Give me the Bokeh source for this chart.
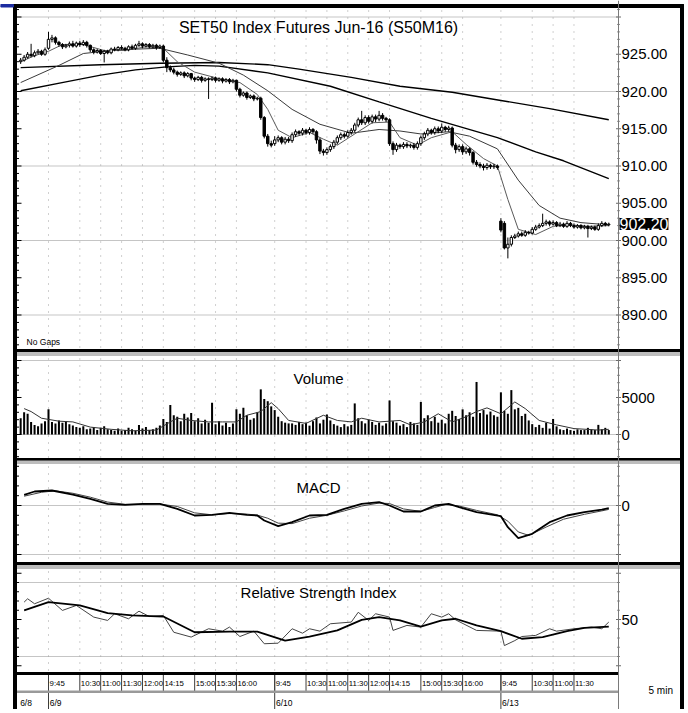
from bokeh.plotting import figure
from bokeh.models import Range1d, Label, Span
from bokeh.embed import file_html
from bokeh.resources import INLINE
from bokeh.core.properties import value

FONT = "Liberation Sans"

# ---------------- data ----------------
first_bar = -8   # bar index of the first 5-min bar (6/9 09:45 = 0)

opens = [
    924.0, 924.2, 924.6, 925.0, 924.8, 925.2, 925.4, 925.0,
    925.8, 927.0, 927.2, 926.6,
    926.3, 926.0, 926.2, 926.4, 926.1, 926.5, 926.3, 926.6,
    926.2, 925.6, 925.3, 925.5, 925.1, 925.4,
    925.2, 925.7, 925.6, 925.9, 925.8, 925.6, 926.0, 925.8, 926.2, 926.4, 926.1, 926.3, 926.0, 926.2, 925.9,
    926.1,
    924.2, 923.2, 922.9, 922.6, 922.3, 922.5, 922.1,
    922.4, 921.8, 921.6, 921.9, 921.5, 921.7, 921.6, 921.8, 921.5, 921.7, 921.4, 921.6, 921.3,
    921.5, 920.3, 919.5, 919.8, 919.2, 919.4, 919.0,
    919.1, 916.5, 914.0, 913.0,
    913.0, 913.5, 913.8, 913.2, 913.6,
    913.4, 914.2, 914.6, 914.4, 914.8, 914.5, 914.9,
    914.6, 913.5,
    912.0, 911.8, 912.2, 912.6,
    913.2, 913.8, 914.2, 914.0, 914.5,
    914.8, 915.5, 916.2, 915.8, 916.5, 916.0, 916.6, 916.3, 916.8, 916.4,
    916.2, 913.0,
    912.2, 912.8, 912.6, 912.9, 912.7, 912.8, 912.5,
    913.0, 913.8, 914.3, 914.8, 914.5, 915.0, 914.7, 915.2, 914.9,
    915.1, 912.8, 912.2, 912.6, 911.9, 912.3,
    911.8, 910.5, 910.2, 910.0, 909.8, 910.1, 909.9, 910.0,
    902.6, 902.3, 899.0, 899.5,
    900.4, 900.6, 900.9, 900.7, 901.1,
    901.0, 901.5, 901.8, 902.0, 902.3, 902.5,
    902.2, 902.4, 902.0, 902.2, 901.9, 902.3,
    902.0, 901.8, 902.0, 901.7, 901.9, 901.6, 901.8,
    901.5, 902.0, 902.3, 902.1,
]
highs = [
    924.5, 924.9, 925.3, 926.4, 925.5, 925.7, 925.6, 925.9,
    928.0, 927.6, 927.4, 926.8,
    926.5, 926.4, 926.7, 926.8, 926.7, 926.8, 926.9, 926.8,
    926.3, 925.8, 925.7, 925.7, 925.6, 925.6,
    925.9, 926.0, 926.1, 926.2, 926.0, 926.2, 926.3, 926.4, 926.8, 926.6, 926.5, 926.5, 926.4, 926.4, 926.3,
    926.3,
    924.6, 923.5, 923.2, 922.8, 922.7, 922.7, 922.6,
    922.5, 922.0, 922.1, 922.1, 921.9, 921.9, 922.0, 922.0, 921.9, 921.9, 921.8, 921.8, 921.7,
    921.6, 920.5, 920.0, 920.0, 919.6, 919.6, 919.3,
    919.3, 916.7, 914.3, 913.4,
    914.0, 914.1, 914.0, 913.9, 913.9,
    914.5, 914.9, 914.8, 915.1, 915.0, 915.2, 915.1,
    914.8, 913.8,
    912.3, 912.5, 912.9, 913.5,
    914.1, 914.5, 914.5, 914.8, 915.1,
    915.8, 916.5, 917.4, 916.8, 916.8, 916.9, 916.9, 917.4, 917.1, 916.6,
    916.4, 913.3,
    913.1, 913.0, 913.2, 913.2, 913.0, 913.1, 913.3,
    914.1, 914.6, 915.1, 915.0, 915.3, 915.3, 915.7, 915.4, 915.4,
    915.3, 913.1, 912.9, 912.9, 912.6, 912.5,
    912.0, 910.8, 910.5, 910.3, 910.4, 910.3, 910.3, 910.2,
    903.0, 902.6, 900.4, 900.7,
    900.9, 901.2, 901.2, 901.4, 901.3,
    901.8, 902.1, 902.3, 903.6, 902.8, 902.7,
    902.7, 902.6, 902.5, 902.4, 902.6, 902.5,
    902.3, 902.2, 902.2, 902.1, 902.1, 902.0, 902.0,
    902.3, 902.6, 902.5, 902.4,
]
lows = [
    923.7, 924.0, 924.4, 924.6, 924.6, 925.0, 924.8, 924.8,
    925.6, 926.6, 926.3, 926.0,
    925.7, 925.8, 925.9, 925.9, 925.9, 926.0, 926.1, 925.9,
    925.3, 925.0, 925.1, 924.9, 923.9, 925.0,
    925.0, 925.4, 925.4, 925.6, 925.4, 925.4, 925.6, 925.6, 926.0, 925.8, 925.9, 925.8, 925.8, 925.6, 925.7,
    923.9,
    922.6, 922.6, 922.3, 922.0, 922.1, 921.8, 921.9,
    921.5, 921.3, 921.4, 921.2, 921.3, 919.0, 921.4, 921.2, 921.3, 921.1, 921.2, 921.0, 921.1,
    920.0, 919.2, 919.3, 918.9, 919.0, 918.7, 918.8,
    916.2, 913.7, 912.6, 912.5,
    912.7, 913.2, 912.9, 912.9, 913.1,
    913.1, 913.9, 914.1, 914.1, 914.2, 914.2, 914.3,
    913.0, 911.6,
    911.4, 911.5, 911.9, 912.3,
    912.9, 913.5, 913.7, 913.8, 914.2,
    914.5, 915.2, 915.5, 915.5, 915.7, 915.7, 915.9, 916.0, 916.1, 915.9,
    912.7, 911.5,
    911.9, 912.3, 912.3, 912.4, 912.4, 912.2, 912.2,
    912.7, 913.5, 914.0, 914.2, 914.2, 914.4, 914.4, 914.6, 914.6,
    912.5, 911.7, 911.9, 911.5, 911.6, 911.4,
    910.2, 909.9, 909.7, 909.4, 909.5, 909.6, 909.6, 909.5,
    901.1, 898.8, 897.6, 899.2,
    900.2, 900.4, 900.5, 900.5, 900.8,
    900.8, 901.3, 901.6, 901.8, 902.0, 901.9,
    902.0, 901.8, 901.8, 901.7, 901.7, 901.8,
    901.6, 901.6, 901.5, 901.5, 900.4, 901.4, 901.3,
    901.3, 901.8, 901.9, 901.9,
]
closes = [
    924.2, 924.6, 925.0, 924.8, 925.2, 925.4, 925.0, 925.6,
    927.0, 927.2, 926.6, 926.3,
    926.0, 926.2, 926.4, 926.1, 926.5, 926.3, 926.6, 926.2,
    925.6, 925.3, 925.5, 925.1, 925.4, 925.2,
    925.7, 925.6, 925.9, 925.8, 925.6, 926.0, 925.8, 926.2, 926.4, 926.1, 926.3, 926.0, 926.2, 925.9, 926.1,
    924.2,
    923.2, 922.9, 922.6, 922.3, 922.5, 922.1, 922.4,
    921.8, 921.6, 921.9, 921.5, 921.7, 921.6, 921.8, 921.5, 921.7, 921.4, 921.6, 921.3, 921.5,
    920.3, 919.5, 919.8, 919.2, 919.4, 919.0, 919.1,
    916.5, 914.0, 913.0, 912.8,
    913.5, 913.8, 913.2, 913.6, 913.4,
    914.2, 914.6, 914.4, 914.8, 914.5, 914.9, 914.6,
    913.5, 912.0,
    911.8, 912.2, 912.6, 913.2,
    913.8, 914.2, 914.0, 914.5, 914.8,
    915.5, 916.2, 915.8, 916.5, 916.0, 916.6, 916.3, 916.8, 916.4, 916.2,
    913.0, 912.2,
    912.8, 912.6, 912.9, 912.7, 912.8, 912.5, 913.0,
    913.8, 914.3, 914.8, 914.5, 915.0, 914.7, 915.2, 914.9, 915.1,
    912.8, 912.2, 912.6, 911.9, 912.3, 911.8,
    910.5, 910.2, 910.0, 909.8, 910.1, 909.9, 910.0, 909.8,
    901.4, 899.0, 899.5, 900.4,
    900.6, 900.9, 900.7, 901.1, 901.0,
    901.5, 901.8, 902.0, 902.3, 902.5, 902.2,
    902.4, 902.0, 902.2, 901.9, 902.3, 902.0,
    901.8, 902.0, 901.7, 901.9, 901.6, 901.8, 901.5,
    902.0, 902.3, 902.1, 902.2,
]
volumes = [
    2200, 3000, 2800, 1700, 1300, 1100, 1500, 1800,
    3400, 1700, 1500, 1900, 1600, 1800, 1400, 1200, 1000, 900, 1100, 700, 800, 1000, 600, 900, 1100, 700,
    600, 500, 800, 500, 600, 900, 700, 500, 1300, 800, 1000, 600, 700, 900, 1200,
    2100, 1700, 4000, 2600, 2400, 1800, 2800,
    2300, 2900, 1800, 2200, 1500, 2000, 1600,
    4300,
    1400, 1800, 1200, 1600, 1000, 1500,
    3400, 2800, 3600, 2600, 2000,
    2200, 3000, 6100, 4800, 4500, 3800,
    3300, 2400, 1800, 1600, 1500, 1500, 1300, 1700, 1400, 1600, 1200,
    1800, 2300, 1500, 2000, 2700, 1900, 1400, 1200, 1000, 1400, 1100, 1300,
    4200, 2200, 1800, 1500, 2000, 1700, 1300, 1600, 1200, 1500,
    4600, 1800, 1600, 1200, 1400, 1000, 1700, 1500, 1300,
    4400, 2200, 2600, 1800, 2400, 1600, 2000, 1500,
    2800, 3200, 2500, 2100, 3400, 2600, 3000, 2400, 7100, 2900, 3300, 2700, 3100, 2600, 2400,
    5700, 3200, 2800, 6000, 3400, 3600, 2500, 2800, 1900, 1400, 1000,
    1300, 900, 1600, 800, 2100, 1100,
    700, 600, 800, 600, 500, 700, 600, 600, 900, 700, 600, 1300, 700, 900, 600,
]

# moving averages (bar index, value)
ma_long_x = [-8, 15, 32, 49, 63, 72, 87, 101, 116, 130, 144, 161]
ma_long_y = [923.2, 923.6, 923.8, 923.9, 923.6, 923.0, 921.9, 920.7, 919.9, 918.8, 917.7, 916.2]
ma_mid_x = [-8, 5, 15, 25, 34, 42, 49, 63, 81, 95, 110, 129, 140, 148, 161]
ma_mid_y = [920.1, 921.3, 922.2, 922.9, 923.3, 923.5, 923.4, 922.5, 920.7, 918.6, 916.4, 913.8, 911.9, 910.7, 908.3]
ma_b_x = [-8, 3, 10, 20, 32, 40, 49, 56, 63, 70, 78, 87, 95, 101, 107, 115, 121, 129, 135, 141, 147, 153, 161]
ma_b_y = [921.2, 923.5, 925.1, 925.6, 925.8, 924.9, 923.8, 922.2, 920.1, 917.6, 915.6, 914.4, 914.9, 914.7,
          914.3, 914.6, 914.0, 912.3, 908.1, 904.7, 903.0, 902.4, 902.1]
ma_a_x = [-8, -4, 0, 4, 10, 16, 22, 28, 33, 37, 42, 50, 55, 60, 63, 66, 70, 75, 79, 83, 88, 93, 98, 101,
          106, 110, 116, 120, 125, 129, 132, 135, 140, 145, 150, 155, 161]
ma_a_y = [924.0, 924.8, 925.4, 926.3, 926.3, 925.5, 925.5, 926.0, 925.8, 924.0, 922.6, 921.6, 921.2, 919.6,
          917.6, 914.8, 913.8, 914.5, 913.6, 912.8, 914.3, 915.8, 915.9, 913.8, 912.8, 913.8, 914.6, 912.9,
          911.0, 910.0, 905.5, 901.5, 900.8, 901.9, 902.1, 901.9, 902.0]

vol_ma_x = [-7, -5, -2, 3, 7, 12, 18, 24, 31, 35, 37, 41, 46, 50, 54, 57, 61, 64, 66, 69, 74, 79, 83, 87, 90,
            95, 101, 104, 108, 112, 116, 120, 123, 126, 130, 134, 137, 141, 146, 151, 158, 161]
vol_ma_y = [3500, 3100, 2200, 1800, 1700, 1000, 700, 500, 600, 1700, 2200, 1900, 1700, 1700, 1700, 2600, 3100,
            4300, 3500, 1900, 1500, 2600, 1900, 1700, 2200, 1700, 1900, 1300, 1700, 2800, 1700, 2400, 3100,
            3600, 2800, 4400, 3500, 1900, 1300, 800, 600, 700]

macd_x = [-7, -4, 1, 7, 12, 17, 22, 27, 32, 37, 42, 47, 52, 57, 60, 62, 66, 70, 75, 80, 85, 90, 95, 98, 102,
          107, 111, 115, 118, 123, 130, 132, 135, 139, 144, 149, 154, 159, 161]
macd_y = [1.09, 1.43, 1.53, 1.12, 0.68, 0.17, 0.07, 0.17, 0.17, -0.34, -1.02, -0.95, -0.75, -0.95, -1.02,
          -1.53, -2.11, -1.70, -1.02, -0.95, -0.34, 0.17, 0.34, 0.0, -0.61, -0.61, 0.0, 0.17, -0.17, -0.68,
          -1.09, -2.21, -3.33, -2.89, -1.70, -1.02, -0.68, -0.41, -0.27]
signal_x = [-7, -2, 2, 7, 12, 17, 22, 27, 32, 37, 42, 47, 52, 57, 60, 63, 66, 70, 75, 80, 85, 90, 95, 98, 102,
            107, 111, 114, 118, 123, 129, 132, 135, 138, 143, 148, 154, 159, 161]
signal_y = [0.95, 1.35, 1.5, 1.25, 0.85, 0.35, 0.12, 0.12, 0.15, -0.1, -0.75, -0.95, -0.82, -0.88, -0.98,
            -1.3, -1.8, -1.85, -1.3, -1.0, -0.55, -0.05, 0.25, 0.2, -0.35, -0.6, -0.2, 0.1, -0.05, -0.5,
            -0.95, -1.6, -2.7, -3.05, -2.2, -1.4, -0.9, -0.55, -0.4]

rsi_x = [-7, -6, -4, 0, 4, 8, 13, 17, 19, 23, 26, 29, 33, 36, 41, 46, 50, 52, 55, 59, 62, 66, 70, 73, 75, 78,
         81, 87, 89, 92, 94, 98, 99, 103, 107, 110, 113, 115, 117, 123, 130, 131, 134, 136, 140, 144, 146,
         151, 156, 159, 161]
rsi_y = [59.4, 61.2, 58.5, 61.5, 54.9, 57.6, 51.3, 49.5, 53.1, 50.4, 54.5, 51.6, 52.2, 43.1, 40.5, 45.0,
         43.7, 45.9, 40.8, 43.7, 36.9, 37.2, 45.0, 42.6, 45.0, 43.7, 47.7, 48.6, 53.9, 49.5, 53.1, 51.3,
         44.1, 46.8, 45.9, 53.1, 51.3, 53.1, 49.8, 44.1, 43.7, 35.9, 38.6, 40.8, 41.4, 45.0, 43.7, 45.0,
         45.9, 45.0, 48.6]
rsi_ma_x = [-7, 0, 9, 17, 24, 33, 42, 52, 60, 68, 75, 83, 90, 95, 101, 107, 113, 117, 123, 130, 136, 142,
            149, 154, 161]
rsi_ma_y = [54.9, 59.4, 57.6, 53.4, 52.2, 51.6, 43.1, 43.5, 43.5, 38.6, 40.8, 44.1, 49.8, 51.3, 49.5, 46.2,
            49.5, 50.4, 46.8, 43.7, 39.6, 40.5, 43.7, 45.5, 46.2]

time_tick_pos = [0, 9, 15, 21, 27, 33, 42, 48, 54, 65, 74, 80, 86, 92, 98, 107, 113, 119, 130, 139, 145, 151]
time_tick_labels = ["9:45", "10:30", "11:00", "11:30", "12:00", "14:15", "15:00", "15:30", "16:00",
                    "9:45", "10:30", "11:00", "11:30", "12:00", "14:15", "15:00", "15:30", "16:00",
                    "9:45", "10:30", "11:00", "11:30"]
date_pos = [-8.5, 0, 65, 130]
date_labels = ["6/8", "6/9", "6/10", "6/13"]

price_ticks = [890, 895, 900, 905, 910, 915, 920, 925]
price_grid = [890, 900, 910, 920, 930]
volume_ticks = [0, 5000]
volume_grid = [0, 10000]
macd_ticks = [0]
macd_grid = [-5, 0]
rsi_ticks = [50]
rsi_grid = [30, 70]

title_text = "SET50 Index Futures Jun-16 (S50M16)"

# ---------------- layout (page pixels; the page body has no margin) ----------------
FX0, FX1, FY0, FY1 = 0, 686, 0, 709
PL, PR = 16, 618                           # plot area left / right (price axis line)
BL, BR = 13, 683                           # outer frame left / right edge
BAR0_X, PX_BAR = 48, 3.48                  # x of bar 0 and pixels per bar
X0 = (PL - BAR0_X) / PX_BAR
X1 = (PR - BAR0_X) / PX_BAR
PRICE_Y900, PX_PT = 240, 7.45
VOL_Y0, PX_VOL = 434, 7.4 / 1000
MACD_Y0, PX_MACD = 505, 9.8
RSI_Y50, PX_RSI = 619, 1.85
BANDS = [(7, 349), (355, 458), (463, 562), (568, 672)]   # panel top/bottom
STRIP = (673, 691, 709)                    # time row top, row split, bottom
LABEL_X = 621
TX = 77.6                                   # bar position of panel-title centres

p = figure(width=FX1 - FX0, height=FY1 - FY0,
           x_range=Range1d(FX0, FX1), y_range=Range1d(FY1, FY0),
           x_axis_location=None, y_axis_location=None,
           toolbar_location=None, output_backend="svg",
           min_border=0, outline_line_color=None)
p.grid.visible = False


def yr(ref_y, ref_v, px_per_unit):
    return Range1d(ref_v - (FY1 - ref_y) / px_per_unit, ref_v + (ref_y - FY0) / px_per_unit)


p.extra_x_ranges = {"bar": Range1d((FX0 - BAR0_X) / PX_BAR, (FX1 - BAR0_X) / PX_BAR)}
p.extra_y_ranges = {"price": yr(PRICE_Y900, 900, PX_PT),
                    "vol": yr(VOL_Y0, 0, PX_VOL),
                    "macd": yr(MACD_Y0, 0, PX_MACD),
                    "rsi": yr(RSI_Y50, 50, PX_RSI)}

GRID_H = dict(line_color="#8a8a8a", line_dash="1 1", line_width=1)
GRID_V = dict(line_color="#a0a0a0", line_dash="1 6", line_width=1)
TXT = dict(text_font=value(FONT), text_color="#000000", text_baseline="middle")


def panel_frame(rname, band, grid_vals, ticks, labels, minor, minor_step, major_step):
    n = len(grid_vals)
    p.segment(x0=[X0] * n, y0=grid_vals, x1=[X1] * n, y1=grid_vals,
              x_range_name="bar", y_range_name=rname, **GRID_H)
    m = len(time_tick_pos)
    p.segment(x0=time_tick_pos, y0=[band[0] + 3] * m, x1=time_tick_pos, y1=[band[1]] * m,
              x_range_name="bar", **GRID_V)
    # small scale marks inside the left frame edge and on the price-axis line
    mt = [minor[0] + k * minor_step for k in range(int(round((minor[1] - minor[0]) / minor_step)) + 1)]
    ln = [5 if abs(v / major_step - round(v / major_step)) < 1e-6 else 2.5 for v in mt]
    p.segment(x0=[PL] * len(mt), y0=mt, x1=[PL + w for w in ln], y1=mt,
              y_range_name=rname, line_color="#000000", line_width=1)
    p.segment(x0=[PR - w / 2 for w in ln], y0=mt, x1=[PR + w / 2 for w in ln], y1=mt,
              y_range_name=rname, line_color="#6a6a6a", line_width=1)
    k = len(ticks)
    p.text(x=[LABEL_X] * k, y=ticks, text=labels, y_range_name=rname,
           text_font_size="15px", text_align="left", **TXT)


def panel_title(rname, y, text, size="15px"):
    p.add_layout(Label(x=TX, y=y, text=text, x_range_name="bar", y_range_name=rname,
                       text_align="center", text_baseline="middle", text_font=FONT,
                       text_font_size=size, text_color="#000000"))


bar_x = list(range(first_bar, first_bar + len(closes)))

# ---------------- price ----------------
panel_frame("price", BANDS[0], price_grid, price_ticks, [f"{t:.2f}" for t in price_ticks],
            (886, 931), 1, 5)
panel_title("price", 928.6, title_text, "16px")
p.line(ma_long_x, ma_long_y, x_range_name="bar", y_range_name="price", line_color="#000000", line_width=1.4)
p.line(ma_mid_x, ma_mid_y, x_range_name="bar", y_range_name="price", line_color="#000000", line_width=1.4)
p.line(ma_b_x, ma_b_y, x_range_name="bar", y_range_name="price", line_color="#3a3a3a", line_width=1)
p.line(ma_a_x, ma_a_y, x_range_name="bar", y_range_name="price", line_color="#5a5a5a", line_width=1)

p.segment(x0=bar_x, y0=lows, x1=bar_x, y1=highs, x_range_name="bar", y_range_name="price",
          line_color="black", line_width=1)
up_x = [x for x, o, c in zip(bar_x, opens, closes) if c >= o]
up_t = [c for o, c in zip(opens, closes) if c >= o]
up_b = [o for o, c in zip(opens, closes) if c >= o]
dn_x = [x for x, o, c in zip(bar_x, opens, closes) if c < o]
dn_t = [o for o, c in zip(opens, closes) if c < o]
dn_b = [c for o, c in zip(opens, closes) if c < o]
p.vbar(x=up_x, top=up_t, bottom=up_b, width=0.7, x_range_name="bar", y_range_name="price",
       fill_color="white", line_color="black", line_width=1)
p.vbar(x=dn_x, top=dn_t, bottom=dn_b, width=0.7, x_range_name="bar", y_range_name="price",
       fill_color="black", line_color="black", line_width=1)

p.add_layout(Label(x=-6.3, y=341, text="No Gaps", x_range_name="bar", text_baseline="middle",
                   text_font=FONT, text_font_size="8.5px", text_color="#000000"))
p.add_layout(Label(x=PR + 1, y=closes[-1], y_range_name="price", text=f"{closes[-1]:.2f}",
                   text_baseline="middle", text_align="left", text_font=FONT, text_font_size="16px",
                   text_color="white", background_fill_color="black"))

# ---------------- volume ----------------
panel_frame("vol", BANDS[1], volume_grid, volume_ticks, [str(t) for t in volume_ticks],
            (-3000, 10000), 1000, 5000)
panel_title("vol", 7600, "Volume")
p.vbar(x=bar_x, top=volumes, bottom=0, width=0.58, x_range_name="bar", y_range_name="vol",
       fill_color="black", line_color=None)
p.line(vol_ma_x, vol_ma_y, x_range_name="bar", y_range_name="vol", line_color="#333333", line_width=1)

# ---------------- MACD ----------------
panel_frame("macd", BANDS[2], macd_grid, macd_ticks, [str(t) for t in macd_ticks],
            (-5, 4), 1, 5)
panel_title("macd", 1.84, "MACD")
p.line(signal_x, signal_y, x_range_name="bar", y_range_name="macd", line_color="#444444", line_width=1)
p.line(macd_x, macd_y, x_range_name="bar", y_range_name="macd", line_color="#000000", line_width=1.8)

# ---------------- RSI ----------------
panel_frame("rsi", BANDS[3], rsi_grid, rsi_ticks, [str(t) for t in rsi_ticks],
            (25, 75), 5, 25)
panel_title("rsi", 64.6, "Relative Strength Index")
p.line(rsi_x, rsi_y, x_range_name="bar", y_range_name="rsi", line_color="#444444", line_width=1)
p.line(rsi_ma_x, rsi_ma_y, x_range_name="bar", y_range_name="rsi", line_color="#000000", line_width=1.8)

# ---------------- time axis strip ----------------
n_t = len(time_tick_pos)
p.segment(x0=time_tick_pos, y0=[STRIP[0]] * n_t, x1=time_tick_pos, y1=[STRIP[1]] * n_t,
          x_range_name="bar", line_color="#3c3c3c", line_width=1)
p.segment(x0=date_pos[1:], y0=[STRIP[0]] * 3, x1=date_pos[1:], y1=[STRIP[2]] * 3,
          x_range_name="bar", line_color="#3c3c3c", line_width=1)
p.text(x=[t + 0.3 for t in time_tick_pos], y=[(STRIP[0] + STRIP[1]) / 2 + 1] * n_t, text=time_tick_labels,
       x_range_name="bar", text_font_size="7.8px", text_align="left", **TXT)
p.text(x=[d + 0.35 for d in date_pos], y=[(STRIP[1] + STRIP[2]) / 2 + 2] * len(date_pos), text=date_labels,
       x_range_name="bar", text_font_size="8.5px", text_align="left", **TXT)
p.add_layout(Label(x=648, y=690, text="5 min", text_baseline="middle", text_align="left",
                   text_font=FONT, text_font_size="10px", text_color="#000000"))

# ---------------- frame decoration ----------------
p.add_layout(Span(location=PR, dimension="height", line_color="#7a7a7a", line_width=1))
# panel separators: dark edge + grey band, across the full chart width
p.quad(left=[PL] * 3, right=[BR - 3] * 3, top=[349, 458, 562], bottom=[351, 460, 564], color="#000000")
p.quad(left=[PL] * 3, right=[BR - 3] * 3, top=[352, 460.5, 565], bottom=[355, 463, 568], color="#bdbdbd")
p.quad(left=[PL], right=[PR], top=[672], bottom=[674], color="#000000")
p.quad(left=[PL], right=[PR], top=[690.5], bottom=[692], color="#9a9a9a")
# outer frame and the window accent line at the top left
p.quad(left=[BL, BL, BR - 3], right=[BR, BL + 3, BR], top=[4, 4, 4], bottom=[7, FY1, FY1], color="#000000")
p.quad(left=[0], right=[BL], top=[4], bottom=[6.5], color="#1c2ca0")

open("out.html", "w").write(file_html(p, INLINE))
